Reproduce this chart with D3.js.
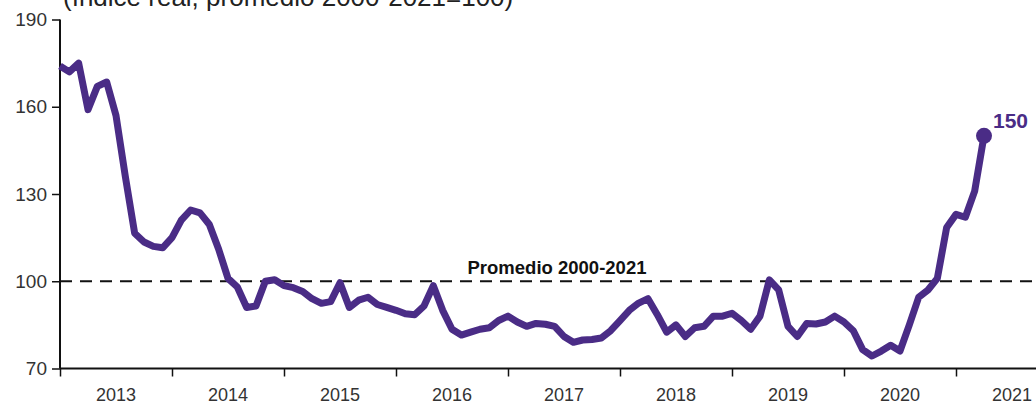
<!DOCTYPE html>
<html>
<head>
<meta charset="utf-8">
<script src="https://cdn.jsdelivr.net/npm/d3@7"></script>
<style>
  html, body { margin: 0; padding: 0; background: #fff; }
  svg { display: block; font-family: "Liberation Sans", Arial, sans-serif; }
</style>
</head>
<body>
<svg id="chart" width="1036" height="405"></svg>
<script>
// Monthly real index, Jan 2013 – Apr 2021 (average 2000-2021 = 100)
const years = ["2013", "2014", "2015", "2016", "2017", "2018", "2019", "2020", "2021"];
const values2013 = [174, 172, 175, 159, 167, 168.5, 157, 136, 116.5, 113.5, 112, 111.5];
const values2014 = [115, 121, 124.5, 123.5, 119.5, 111, 101, 98, 91, 91.5, 100, 100.5];
const values2015 = [98.5, 97.8, 96.5, 94, 92.4, 93, 99.5, 91, 93.5, 94.5, 92, 91];
const values2016 = [90, 88.8, 88.5, 91.5, 98.5, 90, 83.5, 81.5, 82.5, 83.5, 84, 86.5];
const values2017 = [88, 86, 84.5, 85.5, 85.2, 84.5, 81, 79, 79.8, 80, 80.5, 83];
const values2018 = [86.5, 90, 92.5, 94, 88.5, 82.5, 85, 81, 84, 84.5, 88, 88];
const values2019 = [89, 86.5, 83.5, 88, 100.5, 97, 84.5, 81, 85.5, 85.3, 86, 88];
const values2020 = [86, 83, 76.5, 74.3, 76, 78, 76, 85, 94.5, 97, 101, 118.5];
const values2021 = [123, 122, 131, 150];
const yTicks = [70, 100, 130, 160, 190];
const average = 100;
const averageLabel = "Promedio 2000-2021";
const subtitle = "(índice real, promedio 2000-2021=100)";

const series = [].concat(values2013, values2014, values2015, values2016, values2017,
  values2018, values2019, values2020, values2021).map((v, i) => ({ i, v }));

const svg = d3.select("#chart");
const purple = "#4a2c86";

// month index -> x ; one year = 12 months
const x = d3.scaleLinear().domain([0, 96]).range([60, 956]);
const y = d3.scaleLinear().domain([70, 190]).range([368.5, 19.5]);
const xEnd = 1036;

// subtitle, running off the top edge
svg.append("text")
  .attr("x", 63).attr("y", 6)
  .attr("font-size", 26).attr("fill", "#222")
  .text(subtitle);

// y axis
const yAxis = svg.append("g")
  .attr("transform", `translate(${x(0)},0)`)
  .call(d3.axisLeft(y).tickValues(yTicks).tickSize(8).tickPadding(5).tickFormat(d3.format("d")));
yAxis.select(".domain").attr("stroke", "#111").attr("stroke-width", 2).attr("d", `M0,${y(190)}V${y(70)}`);
yAxis.selectAll(".tick line").attr("stroke", "#111").attr("stroke-width", 1.5);
yAxis.selectAll(".tick text").attr("font-size", 19).attr("fill", "#333")
  .attr("font-family", "'Liberation Sans', Arial, sans-serif");

// x axis: ticks at year boundaries, labels mid-year
const xAxis = svg.append("g")
  .attr("transform", `translate(0,${y(70)})`)
  .call(d3.axisBottom(x).tickValues(years.map((_, k) => k * 12)).tickSize(8).tickFormat(""));
xAxis.select(".domain").attr("stroke", "#111").attr("stroke-width", 2)
  .attr("d", `M${x(0)},0H${xEnd}`);
xAxis.selectAll(".tick line").attr("stroke", "#111").attr("stroke-width", 1.5);

svg.append("g").selectAll("text")
  .data(years)
  .join("text")
  .attr("x", (d, k) => x(k * 12 + 6))
  .attr("y", y(70) + 32)
  .attr("text-anchor", "middle")
  .attr("font-size", 18).attr("fill", "#333")
  .text(d => d);

// long-run average reference line
svg.append("line")
  .attr("x1", x(0)).attr("x2", xEnd)
  .attr("y1", y(average)).attr("y2", y(average))
  .attr("stroke", "#111").attr("stroke-width", 2)
  .attr("stroke-dasharray", "12,8");

svg.append("text")
  .attr("x", 557).attr("y", y(average) - 7)
  .attr("text-anchor", "middle")
  .attr("font-size", 18.5).attr("font-weight", "bold").attr("fill", "#111")
  .text(averageLabel);

// index line
const line = d3.line().x(d => x(d.i)).y(d => y(d.v));
svg.append("path")
  .datum(series)
  .attr("fill", "none")
  .attr("stroke", purple)
  .attr("stroke-width", 7)
  .attr("stroke-linejoin", "round")
  .attr("d", line);

// last observation
const last = series[series.length - 1];
svg.append("circle")
  .attr("cx", x(last.i)).attr("cy", y(last.v))
  .attr("r", 8).attr("fill", purple);

svg.append("text")
  .attr("x", x(last.i) + 9).attr("y", y(last.v) - 8)
  .attr("font-size", 21).attr("font-weight", "bold").attr("fill", purple)
  .text(d3.format("d")(last.v));
</script>
</body>
</html>
